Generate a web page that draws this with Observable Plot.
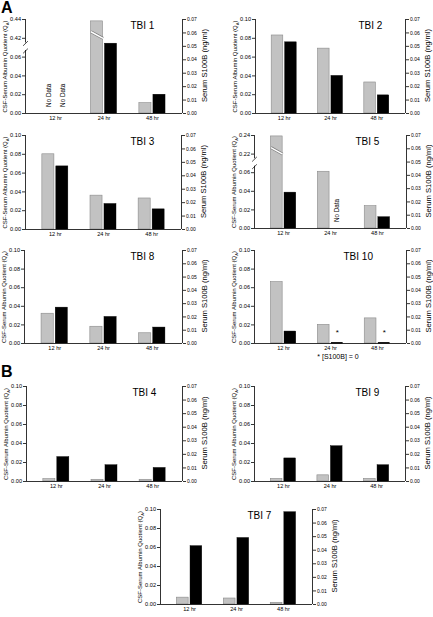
<!DOCTYPE html>
<html><head><meta charset="utf-8">
<script src="https://cdn.jsdelivr.net/npm/d3@7"></script>
<script src="https://cdn.jsdelivr.net/npm/@observablehq/plot@0.6"></script>
<style>
body{margin:0;background:#fff;}
#fig{position:relative;width:433px;height:617px;font-family:"Liberation Sans",Arial,sans-serif;overflow:hidden;background:#fff;}
#fig svg{position:absolute;overflow:visible;}
.lab{position:absolute;font-weight:bold;font-size:16px;line-height:16px;}
.cap{position:absolute;font-size:7px;transform:translate(-50%,-50%);white-space:nowrap;}
</style></head><body><div id="fig"></div>
<script>
// ---- data ----
const times = ["12 hr", "24 hr", "48 hr"];
const panelNames = ["TBI 1", "TBI 2", "TBI 3", "TBI 5", "TBI 8", "TBI 10", "TBI 4", "TBI 9", "TBI 7"];
// CSF-serum albumin quotient (QA), left axis; null = no data
const csfTBI1 = [null, 0.438, 0.011];
const csfTBI2 = [0.083, 0.069, 0.033];
const csfTBI3 = [0.080, 0.036, 0.033];
const csfTBI5 = [0.239, 0.061, 0.024];
const csfTBI8 = [0.032, 0.018, 0.011];
const csfTBI10 = [0.066, 0.020, 0.027];
const csfTBI4 = [0.0025, 0.0018, 0.0018];
const csfTBI9 = [0.0028, 0.0065, 0.0028];
const csfTBI7 = [0.0072, 0.0063, 0.0018];
// Serum S100B (ng/ml), right axis; null = no data
const s100bTBI1 = [null, 0.052, 0.014];
const s100bTBI2 = [0.053, 0.028, 0.0135];
const s100bTBI3 = [0.047, 0.019, 0.015];
const s100bTBI5 = [0.027, null, 0.0085];
const s100bTBI8 = [0.027, 0.020, 0.012];
const s100bTBI10 = [0.009, 0, 0];
const s100bTBI4 = [0.018, 0.012, 0.010];
const s100bTBI9 = [0.017, 0.026, 0.012];
const s100bTBI7 = [0.043, 0.049, 0.068];
// tick labels
const leftTicks = ["0.00", "0.02", "0.04", "0.06", "0.08", "0.10"];
const leftTicksTBI1 = ["0.00", "0.02", "0.04", "0.06", "0.42", "0.44"];
const leftTicksTBI5 = ["0.00", "0.02", "0.04", "0.06", "0.22", "0.24"];
const rightTicks = [0, 0.01, 0.02, 0.03, 0.04, 0.05, 0.06, 0.07];
const breakLowTBI1 = 0.42; // value shown at the 5th tick
const breakLowTBI5 = 0.22;

// ---- layout ----
const fig = document.getElementById("fig");
const LEFT_MAX = 0.10, RIGHT_MAX = 0.07, K = LEFT_MAX / RIGHT_MAX;
const xDomain = [-0.62, 2.62];
const mL = 25, mR = 30, mT = 8, mB = 14;

const panels = [
  {name: panelNames[0], csf: csfTBI1, s: s100bTBI1, ticks: leftTicksTBI1, brk: breakLowTBI1, left: 25, top: 19, w: 157, h: 94, tdx: 105},
  {name: panelNames[1], csf: csfTBI2, s: s100bTBI2, ticks: leftTicks, left: 255, top: 19, w: 150, h: 94, tdx: 103},
  {name: panelNames[2], csf: csfTBI3, s: s100bTBI3, ticks: leftTicks, left: 25, top: 135, w: 156, h: 94, tdx: 105},
  {name: panelNames[3], csf: csfTBI5, s: s100bTBI5, ticks: leftTicksTBI5, brk: breakLowTBI5, left: 254, top: 135, w: 152, h: 93, tdx: 101},
  {name: panelNames[4], csf: csfTBI8, s: s100bTBI8, ticks: leftTicks, left: 24, top: 250, w: 158, h: 93, tdx: 106},
  {name: panelNames[5], csf: csfTBI10, s: s100bTBI10, ticks: leftTicks, left: 254, top: 250, w: 152, h: 93, tdx: 89},
  {name: panelNames[6], csf: csfTBI4, s: s100bTBI4, ticks: leftTicks, left: 26, top: 386, w: 156, h: 95, tdx: 106},
  {name: panelNames[7], csf: csfTBI9, s: s100bTBI9, ticks: leftTicks, left: 254, top: 386, w: 151, h: 95, tdx: 101},
  {name: panelNames[8], csf: csfTBI7, s: s100bTBI7, ticks: leftTicks, left: 160, top: 509, w: 152, h: 95, tdx: 87}
];

function drawPanel(p) {
  const disp = v => (p.brk != null && v > LEFT_MAX) ? 0.08 + (v - p.brk) : v;
  const rows = times.map((t, i) => ({i, t, csf: p.csf[i], s: p.s[i]}));
  const G0 = -0.27, G1 = -0.02, B0 = 0.02, B1 = 0.27;
  const noData = [];
  rows.forEach(d => {
    if (d.csf == null) noData.push({pos: d.i + (G0 + G1) / 2});
    if (d.s == null) noData.push({pos: d.i + (B0 + B1) / 2});
  });
  const zeros = rows.filter(d => d.s === 0);
  const broken = rows.filter(d => d.csf != null && d.csf > LEFT_MAX);
  const marks = [
    Plot.rectY(rows.filter(d => d.csf != null), {x1: d => d.i + G0, x2: d => d.i + G1, y1: 0, y2: d => disp(d.csf), fill: "#c2c2c2", stroke: "#8a8a8a", strokeWidth: 0.6}),
    Plot.rectY(rows.filter(d => d.s != null && d.s > 0), {x1: d => d.i + B0, x2: d => d.i + B1, y1: 0, y2: d => d.s * K, fill: "#000", stroke: "#000", strokeWidth: 0.4}),
    Plot.link(broken, {x1: d => d.i + G0, x2: d => d.i + G1, y1: 0.087, y2: 0.080, stroke: "#777", strokeWidth: 2.8}),
    Plot.link(broken, {x1: d => d.i + G0, x2: d => d.i + G1, y1: 0.087, y2: 0.080, stroke: "#fff", strokeWidth: 1.5}),
    Plot.ruleY(zeros, {y: 0, x1: d => d.i + B0, x2: d => d.i + B1, stroke: "#000", strokeWidth: 1.4, dy: -0.7}),
    Plot.text(zeros, {x: d => d.i + (B0 + B1) / 2, y: 0.0115, text: () => "*", fontSize: 8}),
    Plot.text(noData, {x: d => d.pos, y: 0.007, text: () => "No Data", rotate: -90, textAnchor: "start", fontSize: 6.3}),
    // axis lines
    Plot.ruleY([0], {stroke: "#000", strokeWidth: 0.8}),
    Plot.ruleX([xDomain[1]], {stroke: "#000", strokeWidth: 0.8}),
    ...(p.brk != null ? [
      Plot.ruleX([[0, 0.067], [0.075, LEFT_MAX]], {x: xDomain[0], y1: d => d[0], y2: d => d[1], stroke: "#000", strokeWidth: 0.8}),
      Plot.link([0.064, 0.072], {x1: xDomain[0] - 0.05, x2: xDomain[0] + 0.05, y1: d => d, y2: d => d + 0.005, stroke: "#000", strokeWidth: 0.7})
    ] : [Plot.ruleX([xDomain[0]], {stroke: "#000", strokeWidth: 0.8})]),
    Plot.axisY({anchor: "left", label: null, ticks: d3.range(6).map(j => j * 0.02), tickFormat: d => p.ticks[Math.round(d / 0.02)], tickSize: 3, tickPadding: 1.5, fontSize: 5.6, strokeWidth: 0.8}),
    Plot.axisY({anchor: "right", label: null, ticks: rightTicks.map(v => v * K), tickFormat: d => (d / K).toFixed(2), tickSize: 3, tickPadding: 1.5, fontSize: 5, strokeWidth: 0.8}),
    Plot.axisX({anchor: "bottom", label: null, ticks: [0, 1, 2], tickFormat: i => times[i], tickSize: 0, tickPadding: 2.5, fontSize: 5.6}),
    Plot.text(["CSF-Serum Albumin Quotient (Q_A)"], {frameAnchor: "left", dx: -20, text: d => d, rotate: -90, textAnchor: "middle", fontSize: 6}),
    Plot.text(["Serum S100B (ng/ml)"], {frameAnchor: "right", dx: 22, dy: -1, text: d => d, rotate: -90, textAnchor: "middle", fontSize: 7.6}),
    Plot.text([p.name], {frameAnchor: "top-left", dx: p.tdx, dy: 6.5, text: d => d, textAnchor: "start", lineAnchor: "middle", fontSize: 10})
  ];
  const svg = Plot.plot({
    width: mL + p.w + mR, height: mT + p.h + mB,
    marginLeft: mL, marginRight: mR, marginTop: mT, marginBottom: mB,
    x: {domain: xDomain, axis: null, label: null},
    y: {domain: [0, LEFT_MAX], axis: null, label: null},
    style: {fontFamily: "'Liberation Sans', Arial, sans-serif", fontSize: "6px", color: "#000", background: "transparent", overflow: "visible"},
    marks
  });
  svg.style.left = (p.left - mL) + "px";
  svg.style.top = (p.top - mT) + "px";
  // subscript A in Q_A
  d3.select(svg).selectAll("text").each(function () {
    if (this.textContent === "CSF-Serum Albumin Quotient (Q_A)") {
      const t = d3.select(this);
      t.text("CSF-Serum Albumin Quotient (Q");
      t.append("tspan").attr("dy", 1.3).attr("font-size", 4.2).text("A");
      t.append("tspan").attr("dy", -1.3).text(")");
    }
  });
  fig.appendChild(svg);
}
panels.forEach(drawPanel);

// figure labels and footnote
function addDiv(cls, text, left, top) {
  const d = document.createElement("div");
  d.className = cls; d.textContent = text;
  d.style.left = left + "px"; d.style.top = top + "px";
  fig.appendChild(d);
}
addDiv("lab", "A", 1, 0);
addDiv("lab", "B", 1, 364);
addDiv("cap", "* [S100B] = 0", 338, 356);
</script></body></html>
